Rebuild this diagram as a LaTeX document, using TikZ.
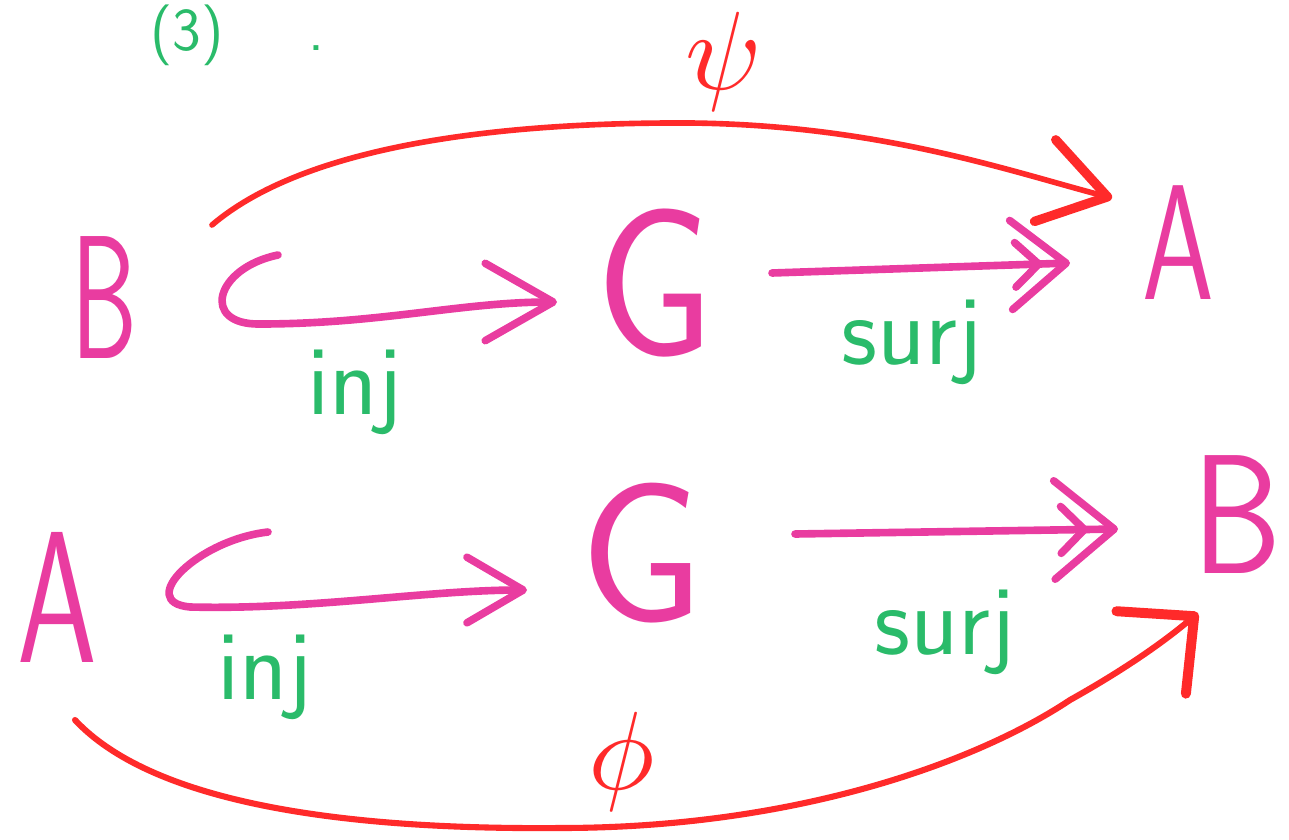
\documentclass[tikz,border=0pt]{standalone}
\usepackage{fontspec}
\usepackage{unicode-math}
\usepackage{graphicx}
\usetikzlibrary{arrows.meta}
\definecolor{pk}{RGB}{233,60,160}
\definecolor{gr}{RGB}{42,187,106}
\definecolor{rd}{RGB}{255,42,42}
\newcommand{\handletter}[3]{\fontsize{#1}{#1}\selectfont\scalebox{#2}[1]{#3}}
\begin{document}
\begin{tikzpicture}[x=0.03cm,y=-0.03cm,
  letter/.style={text=pk,inner sep=0pt,font=\sffamily},
  lbl/.style={text=gr,inner sep=0pt,font=\sffamily\fontsize{85}{85}\selectfont},
  greek/.style={text=rd,inner sep=0pt,font=\fontsize{95}{95}\selectfont},
  mor/.style={draw=pk,line width=6.5pt,line cap=round,line join=round},
  injA/.style={mor,-{Straight Barb[round,length=58pt,width=66pt]}},
  injB/.style={mor,-{Straight Barb[round,length=48pt,width=56pt]}},
  surjA/.style={mor,-{Straight Barb[round,length=20pt,width=38pt,sep=-30pt] Straight Barb[round,length=47pt,width=76pt]}},
  surjB/.style={mor,-{Straight Barb[round,length=20pt,width=40pt,sep=-32pt] Straight Barb[round,length=51pt,width=84pt]}},
  redA/.style={draw=rd,line width=4.8pt,line cap=round,-{Straight Barb[round,line width=8pt,length=55pt,width=72pt]}},
  redB/.style={draw=rd,line width=5.2pt,line cap=round,-{Straight Barb[round,line width=8.5pt,length=48pt,width=92pt]}}]
\useasboundingbox (0,0) rectangle (1289,839);
% header
\node[lbl,anchor=base west,font=\sffamily\fontsize{52}{52}\selectfont] (num) at (150,50) {(3)\hspace{1.4em}.};
% top row
\node[letter] (B1) at (105,298) {\handletter{150}{0.6}{B}};
\node[letter] (G1) at (655,283) {\handletter{180}{0.9}{G}};
\node[letter] (A1) at (1178,243) {\handletter{140}{0.7}{A}};
% bottom row
\node[letter] (A2) at (57,597) {\handletter{160}{0.68}{A}};
\node[letter] (G2) at (642,553) {\handletter{170}{1.0}{G}};
\node[letter] (B2) at (1237,515) {\handletter{145}{0.84}{B}};
% labels
\node[lbl] (i1) at (355,392) {inj};
\node[lbl] (s1) at (912,342) {surj};
\node[lbl] (i2) at (265,677) {inj};
\node[lbl] (s2) at (945,632) {surj};
\node[greek] (psi) at (722,62) {$\psi$};
\node[greek] (phi) at (622,762) {$\phi$};
% coordinates for connector ends
\coordinate (h1) at ([shift={(173,-43)}]B1.center);
\coordinate (k1) at ([shift={(155,26)}]B1.center);
\coordinate (e1) at ([shift={(-98,19)}]G1.center);
\coordinate (h2) at ([shift={(211,-65)}]A2.center);
\coordinate (k2) at ([shift={(133,10)}]A2.center);
\coordinate (e2) at ([shift={(-115,37)}]G2.center);
% injections
\draw[injA] (h1) .. controls +(-63,13) and +(-60,1) .. (k1)
  .. controls +(120,0) and +(-95,0) .. (e1);
\draw[injB] (h2) .. controls +(-70,8) and +(-55,-5) .. (k2)
  .. controls +(120,3) and +(-100,0) .. (e2);
% surjections
\draw[surjA] ([shift={(117,-10)}]G1.center) -- ([shift={(-108,20)}]A1.center);
\draw[surjB] ([shift={(153,-19)}]G2.center) -- ([shift={(-119,14)}]B2.center);
% psi and phi
\draw[redA] ([shift={(107,-73)}]B1.center) .. controls (300,150) and (480,122) .. (690,123)
  .. controls (880,125) and (1012,172) .. ([shift={(-66,-45)}]A1.center);
\draw[redB] ([shift={(18,123)}]A2.center) .. controls (150,800) and (330,830) .. (560,828)
  .. controls (800,828) and (980,760) .. (1070,700)
  .. controls (1120,672) and (1160,645) .. ([shift={(-39,98)}]B2.center);
\end{tikzpicture}
\end{document}
